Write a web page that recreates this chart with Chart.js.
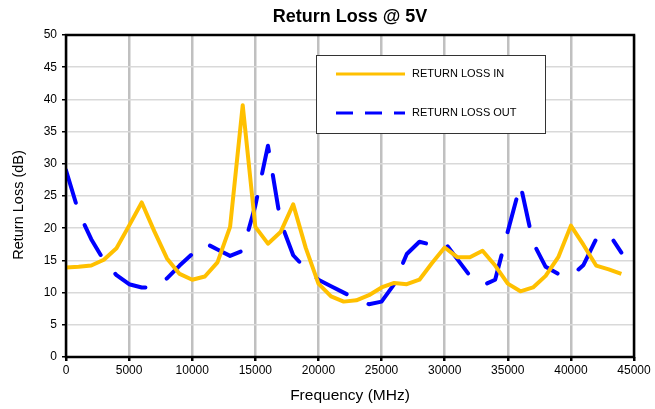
<!DOCTYPE html>
<html>
<head>
<meta charset="utf-8">
<script src="https://cdn.jsdelivr.net/npm/chart.js@4"></script>
<style>
  html, body { margin: 0; padding: 0; background: #fff; }
  #wrap { width: 655px; height: 409px; }
</style>
</head>
<body>
<div id="wrap"><canvas id="rlChart" width="655" height="409"></canvas></div>
<script>
const frequencies = [0, 1000, 2000, 3000, 4000, 5000, 6000, 7000, 8000, 9000,
  10000, 11000, 12000, 13000, 14000, 15000, 16000, 17000, 18000, 19000,
  20000, 21000, 22000, 23000, 24000, 25000, 26000, 27000, 28000, 29000,
  30000, 31000, 32000, 33000, 34000, 35000, 36000, 37000, 38000, 39000,
  40000, 41000, 42000, 43000, 44000];

const returnLossIn = [13.9, 14.0, 14.2, 15.1, 16.9, 20.4, 24.0, 19.5, 15.3, 12.9,
  12.0, 12.5, 14.7, 20.2, 39.1, 20.2, 17.6, 19.4, 23.7, 16.9,
  11.4, 9.4, 8.6, 8.8, 9.6, 10.8, 11.5, 11.3, 12.0, 14.6,
  17.0, 15.5, 15.5, 16.5, 14.2, 11.4, 10.2, 10.8, 12.6, 15.5,
  20.4, 17.4, 14.2, 13.6, 12.9];

const returnLossOut = [29.0, 22.5, 18.3, 15.0, 12.7, 11.3, 10.8, 10.8, 12.2, 14.2,
  16.0, 17.7, 16.7, 15.7, 16.5, 23.5, 32.8, 21.0, 15.8, 13.7,
  12.0, 11.0, 10.0, 9.0, 8.2, 8.6, 11.3, 16.0, 17.9, 17.4,
  17.8, 15.2, 12.6, 11.1, 12.0, 19.5, 26.8, 17.8, 14.0, 12.9,
  12.5, 14.3, 18.3, 19.2, 16.2];

const xTicks = [0, 5000, 10000, 15000, 20000, 25000, 30000, 35000, 40000, 45000];
const yTicks = [0, 5, 10, 15, 20, 25, 30, 35, 40, 45, 50];

const FONT = 'Arial, "Liberation Sans", sans-serif';

// titel, judul sumbu Y, bingkai plot dan legenda digambar sendiri
const framePlugin = {
  id: 'frame',
  beforeDraw(chart) {
    const { ctx, chartArea: a } = chart;
    ctx.save();
    ctx.fillStyle = '#000';
    ctx.font = 'bold 18px ' + FONT;
    ctx.textAlign = 'center';
    ctx.textBaseline = 'middle';
    ctx.fillText('Return Loss @ 5V', (a.left + a.right) / 2, 17);

    ctx.translate(19, 205);
    ctx.rotate(-Math.PI / 2);
    ctx.font = '14.5px ' + FONT;
    ctx.fillText('Return Loss (dB)', 0, 0);
    ctx.restore();
  },
  afterDatasetsDraw(chart) {
    const { ctx, chartArea: a } = chart;
    ctx.save();
    ctx.strokeStyle = '#000';
    ctx.lineWidth = 2.5;
    ctx.strokeRect(a.left, a.top, a.right - a.left, a.bottom - a.top);

    // legend box
    const bx = 316, by = 55, bw = 229, bh = 78;
    ctx.fillStyle = '#fff';
    ctx.fillRect(bx, by, bw, bh);
    ctx.strokeStyle = '#333';
    ctx.lineWidth = 1;
    ctx.strokeRect(bx + 0.5, by + 0.5, bw, bh);

    const rows = [by + 19, by + 58];
    chart.data.datasets.forEach((ds, i) => {
      const y = rows[i];
      ctx.strokeStyle = ds.borderColor;
      ctx.lineWidth = 3;
      ctx.setLineDash(ds.borderDash && ds.borderDash.length ? [17, 12] : []);
      ctx.beginPath();
      ctx.moveTo(bx + 20, y);
      ctx.lineTo(bx + 89, y);
      ctx.stroke();
      ctx.setLineDash([]);
      ctx.fillStyle = '#000';
      ctx.font = '11px ' + FONT;
      ctx.textAlign = 'left';
      ctx.textBaseline = 'middle';
      ctx.fillText(ds.label, bx + 96, y);
    });
    ctx.restore();
  }
};

const rlChart = new Chart(document.getElementById('rlChart'), {
  type: 'line',
  data: {
    datasets: [{
      label: 'RETURN LOSS IN',
      data: frequencies.map((f, i) => ({ x: f, y: returnLossIn[i] })),
      borderColor: '#FFC000',
      backgroundColor: '#FFC000',
      borderWidth: 4,
      borderJoinStyle: 'round',
      pointRadius: 0,
      tension: 0,
      borderDash: []
    }, {
      label: 'RETURN LOSS OUT',
      data: frequencies.map((f, i) => ({ x: f, y: returnLossOut[i] })),
      borderColor: '#0000FF',
      backgroundColor: '#0000FF',
      borderWidth: 4,
      borderCapStyle: 'round',
      borderJoinStyle: 'round',
      borderDash: [34, 24],
      pointRadius: 0,
      tension: 0
    }]
  },
  options: {
    responsive: false,
    animation: false,
    layout: { padding: { top: 35, right: 21, left: 0, bottom: 0 } },
    plugins: {
      legend: { display: false },
      title: { display: false },
      tooltip: { enabled: false }
    },
    scales: {
      x: {
        type: 'linear',
        min: 0,
        max: 45000,
        afterBuildTicks(scale) { scale.ticks = xTicks.map(v => ({ value: v })); },
        afterFit(scale) { scale.height = 52; },
        ticks: {
          color: '#000',
          font: { family: FONT, size: 12 },
          padding: 2,
          maxRotation: 0,
          callback: v => String(v)
        },
        grid: { color: '#c0c0c0', lineWidth: 2.5, tickColor: '#000', tickLength: 4 },
        border: { display: false },
        title: {
          display: true,
          text: 'Frequency (MHz)',
          color: '#000',
          font: { family: FONT, size: 15.5 },
          padding: { top: 2, bottom: 4 }
        }
      },
      y: {
        min: 0,
        max: 50,
        afterBuildTicks(scale) { scale.ticks = yTicks.map(v => ({ value: v })); },
        afterFit(scale) { scale.width = 66; },
        ticks: {
          color: '#000',
          font: { family: FONT, size: 12 },
          padding: 5
        },
        grid: { color: '#d9d9d9', lineWidth: 1.5, tickColor: '#000', tickLength: 4 },
        border: { display: false },
        title: { display: false }
      }
    }
  },
  plugins: [framePlugin]
});
</script>
</body>
</html>
